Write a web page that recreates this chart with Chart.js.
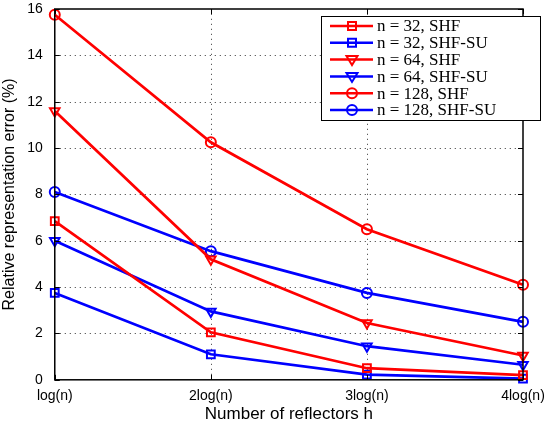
<!DOCTYPE html>
<html>
<head>
<meta charset="utf-8">
<script src="https://cdn.jsdelivr.net/npm/chart.js@4.4.0/dist/chart.umd.min.js"></script>
<style>
  body { margin: 0; background: #fff; }
  #wrap { width: 547px; height: 422px; }
</style>
</head>
<body>
<div id="wrap"><canvas id="myChart" width="547" height="422"></canvas></div>
<script>
var xValues = [1, 2, 3, 4];
var xLabels = ["log(n)", "2log(n)", "3log(n)", "4log(n)"];
var yTicks = [0, 2, 4, 6, 8, 10, 12, 14, 16];

var shf32 = [6.85, 2.05, 0.5, 0.2];
var su32 = [3.75, 1.1, 0.22, 0.05];
var shf64 = [11.6, 5.2, 2.45, 1.05];
var su64 = [6.0, 2.95, 1.45, 0.65];
var shf128 = [15.75, 10.25, 6.5, 4.1];
var su128 = [8.1, 5.55, 3.75, 2.5];

var seriesNames = ["n = 32, SHF", "n = 32, SHF-SU", "n = 64, SHF", "n = 64, SHF-SU", "n = 128, SHF", "n = 128, SHF-SU"];
var seriesData = [shf32, su32, shf64, su64, shf128, su128];
var seriesColors = ["#ff0000", "#0000ff", "#ff0000", "#0000ff", "#ff0000", "#0000ff"];
var seriesMarkers = ["rect", "rect", "triangle", "triangle", "circle", "circle"];

function toPoints(vals) {
  return vals.map(function(v, i) { return {x: xValues[i], y: v}; });
}

var datasets = seriesNames.map(function(name, i) {
  return {
    label: name,
    data: toPoints(seriesData[i]),
    borderColor: seriesColors[i],
    backgroundColor: "rgba(0,0,0,0)",
    pointBorderColor: seriesColors[i],
    pointBackgroundColor: "rgba(0,0,0,0)",
    pointStyle: seriesMarkers[i],
    pointRotation: seriesMarkers[i] == "triangle" ? 180 : 0,
    pointRadius: seriesMarkers[i] == "circle" ? 5 : 5.5,
    pointBorderWidth: 2,
    borderWidth: 2.7,
    tension: 0,
    clip: 8
  };
});

function drawMarker(ctx, style, x, y, color) {
  ctx.save();
  ctx.strokeStyle = color;
  ctx.lineWidth = 2;
  ctx.beginPath();
  if (style == "rect") {
    ctx.rect(x - 4, y - 4, 8, 8);
  } else if (style == "triangle") {
    ctx.moveTo(x - 5.5, y - 3.5);
    ctx.lineTo(x + 5.5, y - 3.5);
    ctx.lineTo(x, y + 5.5);
    ctx.closePath();
  } else {
    ctx.arc(x, y, 5, 0, Math.PI * 2);
  }
  ctx.stroke();
  ctx.restore();
}

// dotted grid drawn under the lines
var gridPlugin = {
  id: "gridPlugin",
  beforeDatasetsDraw: function(chart) {
    var ctx = chart.ctx;
    var a = chart.chartArea;
    var xs = chart.scales.x, ys = chart.scales.y;
    ctx.save();
    ctx.strokeStyle = "#333";
    ctx.lineWidth = 1;
    ctx.setLineDash([1, 4]);
    ctx.beginPath();
    yTicks.slice(1, -1).forEach(function(t) {
      var py = Math.round(ys.getPixelForValue(t)) + 0.5;
      ctx.moveTo(a.left, py); ctx.lineTo(a.right, py);
    });
    xValues.slice(1, -1).forEach(function(t) {
      var px = Math.round(xs.getPixelForValue(t)) + 0.5;
      ctx.moveTo(px, a.bottom); ctx.lineTo(px, a.top);
    });
    ctx.stroke();
    ctx.restore();
  }
};

// matlab-like box, inner ticks and legend
var boxPlugin = {
  id: "boxPlugin",
  afterDraw: function(chart) {
    var ctx = chart.ctx;
    var a = chart.chartArea;
    var xs = chart.scales.x, ys = chart.scales.y;
    ctx.save();
    ctx.strokeStyle = "#000";
    ctx.lineWidth = 1.5;
    ctx.strokeRect(a.left, a.top, a.right - a.left, a.bottom - a.top);
    ctx.lineWidth = 1;
    ctx.beginPath();
    yTicks.forEach(function(t) {
      var py = Math.round(ys.getPixelForValue(t)) + 0.5;
      ctx.moveTo(a.left, py); ctx.lineTo(a.left + 5, py);
      ctx.moveTo(a.right, py); ctx.lineTo(a.right - 5, py);
    });
    xValues.forEach(function(t) {
      var px = Math.round(xs.getPixelForValue(t)) + 0.5;
      ctx.moveTo(px, a.bottom); ctx.lineTo(px, a.bottom - 5);
      ctx.moveTo(px, a.top); ctx.lineTo(px, a.top + 5);
    });
    ctx.stroke();

    // legend
    var lx = 321, ly = 16, lw = 219, lh = 104;
    ctx.fillStyle = "#fff";
    ctx.fillRect(lx, ly, lw, lh);
    ctx.strokeStyle = "#000";
    ctx.lineWidth = 1;
    ctx.strokeRect(lx + 0.5, ly + 0.5, lw, lh);
    ctx.textBaseline = "middle";
    seriesNames.forEach(function(name, i) {
      var y = ly + 10 + i * 16.8;
      ctx.strokeStyle = seriesColors[i];
      ctx.lineWidth = 2.5;
      ctx.beginPath();
      ctx.moveTo(lx + 9, y); ctx.lineTo(lx + 52, y);
      ctx.stroke();
      drawMarker(ctx, seriesMarkers[i], lx + 31, y, seriesColors[i]);
      ctx.fillStyle = "#000";
      ctx.font = "17px 'Liberation Serif', serif";
      ctx.fillText(name, lx + 56, y + 1);
    });
    ctx.restore();
  }
};

new Chart("myChart", {
  type: "line",
  data: { datasets: datasets },
  options: {
    responsive: false,
    animation: false,
    layout: { padding: { top: 0, right: 24, left: 0, bottom: -3 } },
    plugins: {
      legend: { display: false },
      tooltip: { enabled: false }
    },
    scales: {
      x: {
        type: "linear",
        min: 1, max: 4,
        afterBuildTicks: function(axis) {
          axis.ticks = xValues.map(function(v) { return {value: v}; });
        },
        ticks: {
          color: "#000",
          font: { family: "'Liberation Sans', Arial, sans-serif", size: 14 },
          padding: 0,
          maxRotation: 0,
          callback: function(v) { return xLabels[xValues.indexOf(v)]; }
        },
        grid: { display: false },
        border: { display: false },
        title: {
          display: true,
          text: "Number of reflectors h",
          color: "#000",
          font: { family: "'Liberation Sans', Arial, sans-serif", size: 17 },
          padding: { top: 0, bottom: 0 }
        }
      },
      y: {
        min: 0, max: 16,
        afterBuildTicks: function(axis) {
          axis.ticks = yTicks.map(function(v) { return {value: v}; });
        },
        afterFit: function(axis) {
          axis.paddingTop = 9;
        },
        ticks: {
          color: "#000",
          font: { family: "'Liberation Sans', Arial, sans-serif", size: 14 },
          padding: 4
        },
        grid: { display: false },
        border: { display: false },
        title: {
          display: true,
          text: "Relative representation error (%)",
          color: "#000",
          font: { family: "'Liberation Sans', Arial, sans-serif", size: 16 },
          padding: { top: 0, bottom: 4 }
        }
      }
    }
  },
  plugins: [gridPlugin, boxPlugin]
});
</script>
</body>
</html>
